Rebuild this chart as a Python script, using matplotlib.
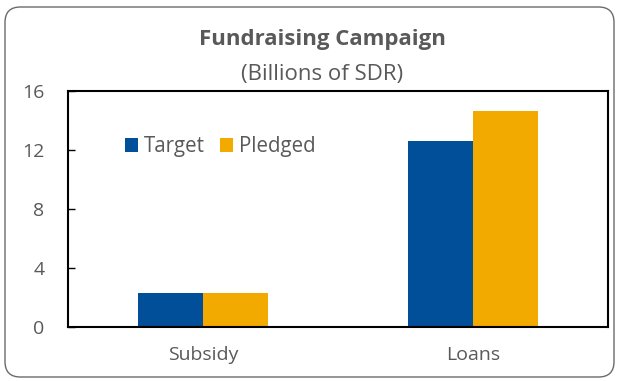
import numpy as np
import matplotlib.pyplot as plt
from matplotlib.patches import FancyBboxPatch

plt.rcParams['font.family'] = ['Open Sans', 'DejaVu Sans']

categories = ['Subsidy', 'Loans']
target = [2.3, 12.6]
pledged = [2.3, 14.65]

blue = '#004F98'
orange = '#F2AA00'
grey = '#595959'

fig = plt.figure(figsize=(6.17, 3.81), dpi=100)
ax = fig.add_axes([68 / 617, 1 - 327 / 381, 540 / 617, 236 / 381])

x = np.arange(len(categories))
w = 0.24
ax.bar(x - w / 2, target, w, color=blue, label='Target')
ax.bar(x + w / 2, pledged, w, color=orange, label='Pledged')

ax.set_xlim(-0.5, 1.5)
ax.set_ylim(0, 16)
ax.set_yticks([0, 4, 8, 12, 16])
ax.set_xticks(x)
ax.set_xticklabels(categories)
ax.tick_params(axis='y', direction='in', length=5, width=1, labelsize=14,
               labelcolor=grey, pad=17)
ax.tick_params(axis='x', length=0, labelsize=14, labelcolor=grey, pad=14)
for s in ax.spines.values():
    s.set_linewidth(1.5)
    s.set_color('black')

ax.legend(loc='center left', bbox_to_anchor=(0.09, 0.765), ncol=2, frameon=False,
          fontsize=14.8, labelcolor=grey, handlelength=0.65, handleheight=0.65,
          handletextpad=0.3, columnspacing=0.7, borderaxespad=0)

fig.text(322 / 617, 1 - 45 / 381, 'Fundraising Campaign', ha='center', va='baseline',
         fontsize=16, fontweight='bold', color=grey)
fig.text(322 / 617, 1 - 80 / 381, '(Billions of SDR)', ha='center', va='baseline',
         fontsize=16, color=grey)

# outer rounded frame
frame = FancyBboxPatch((5 / 617, 4 / 381), 609 / 617, 370 / 381,
                       boxstyle='round,pad=0,rounding_size=0.025',
                       transform=fig.transFigure, fill=False,
                       edgecolor='#6b6b6b', linewidth=1.0, mutation_aspect=617 / 381)
fig.patches.append(frame)

fig.savefig('out.png', dpi=100)
